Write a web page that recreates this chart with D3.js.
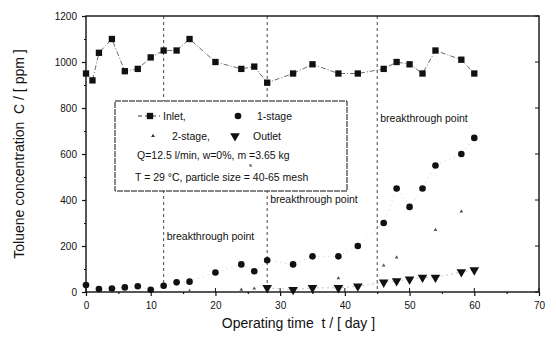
<!DOCTYPE html>
<html>
<head>
<meta charset="utf-8">
<script src="https://cdn.jsdelivr.net/npm/d3@7"></script>
<style>
  body { margin: 0; background: #fff; }
  svg { font-family: "Liberation Sans", Arial, sans-serif; }
</style>
</head>
<body>
<div id="chart"></div>
<script>
// data
const inletDays = [0, 1, 2, 4, 6, 8, 10, 12, 14, 16, 20, 24, 26, 28, 32, 35, 39, 42, 46, 48, 50, 52, 54, 58, 60];
const inletVals = [950, 920, 1040, 1100, 960, 970, 1020, 1050, 1050, 1100, 1000, 970, 980, 910, 950, 990, 950, 950, 970, 1000, 990, 950, 1050, 1010, 950];

const stage1Days = [0, 2, 4, 6, 8, 10, 12, 14, 16, 20, 24, 26, 28, 32, 35, 39, 42, 46, 48, 50, 52, 54, 58, 60];
const stage1Vals = [30, 13, 15, 20, 25, 10, 27, 42, 45, 85, 120, 90, 138, 120, 155, 155, 200, 300, 450, 370, 450, 550, 600, 670];

const stage2Days = [16, 24, 26, 28, 32, 35, 39, 42, 46, 48, 54, 58];
const stage2Vals = [5, 10, 15, 20, 10, 20, 60, 20, 115, 150, 270, 350];

const outletDays = [28, 32, 35, 39, 42, 46, 48, 50, 52, 54, 58, 60];
const outletVals = [18, 10, 18, 18, 25, 42, 48, 55, 63, 63, 87, 95];

const breakDays = [12, 28, 45];
const xTicks = [0, 10, 20, 30, 40, 50, 60, 70];
const yTicks = [0, 200, 400, 600, 800, 1000, 1200];

const W = 556, H = 337;
const margin = { top: 16, right: 17, bottom: 45, left: 86 };
const width = W - margin.left - margin.right,
  height = H - margin.top - margin.bottom;

const svg = d3.select("#chart").append("svg")
  .attr("width", W).attr("height", H);
const g = svg.append("g")
  .attr("transform", "translate(" + margin.left + "," + margin.top + ")");

const x = d3.scaleLinear().domain([0, 70]).range([0, width]);
const y = d3.scaleLinear().domain([0, 1200]).range([height, 0]);

// breakthrough lines
g.selectAll(".brk").data(breakDays).enter().append("line")
  .attr("x1", d => x(d)).attr("x2", d => x(d))
  .attr("y1", 0).attr("y2", height)
  .attr("stroke", "#333").attr("stroke-width", 0.9)
  .attr("stroke-dasharray", "3,3");

// legend box (drawn over the lines)
const leg = g.append("g").attr("transform", "translate(29,85)");
leg.append("rect").attr("width", 232).attr("height", 90)
  .attr("fill", "#fff").attr("stroke", "#111").attr("stroke-width", 1)
  .attr("stroke-dasharray", "6,1");

// axes
const xAxis = g.append("g").attr("transform", "translate(0," + height + ")")
  .call(d3.axisBottom(x).tickValues(xTicks).tickSize(4).tickPadding(6).tickFormat(d3.format("d")));
const xMinor = g.append("g").attr("transform", "translate(0," + height + ")")
  .call(d3.axisBottom(x).tickValues([5, 15, 25, 35, 45, 55, 65]).tickSize(2).tickFormat(""));
const yAxis = g.append("g")
  .call(d3.axisLeft(y).tickValues(yTicks).tickSize(4).tickPadding(5).tickFormat(d3.format("d")));
const yMinor = g.append("g")
  .call(d3.axisLeft(y).tickValues([100, 300, 500, 700, 900, 1100]).tickSize(2).tickFormat(""));
[xAxis, yAxis].forEach(a => a.selectAll("text").style("font-size", "10px").attr("fill", "#111"));
[xAxis, xMinor, yAxis, yMinor].forEach(a => {
  a.select(".domain").remove();
  a.selectAll("line").attr("stroke", "#111").attr("stroke-width", 1.2);
});
// inward ticks
g.selectAll(".xin").data(xTicks).enter().append("line")
  .attr("x1", d => x(d)).attr("x2", d => x(d))
  .attr("y1", height).attr("y2", height - 4).attr("stroke", "#111");
g.selectAll(".yin").data(yTicks).enter().append("line")
  .attr("x1", width).attr("x2", width - 4)
  .attr("y1", d => y(d)).attr("y2", d => y(d)).attr("stroke", "#111");

// frame
g.append("rect").attr("width", width).attr("height", height)
  .attr("fill", "none").attr("stroke", "#111").attr("stroke-width", 1.4);

// series
const pts = (days, vals) => days.map((d, i) => [d, vals[i]]);
const line = d3.line().x(d => x(d[0])).y(d => y(d[1]));

g.append("path").datum(pts(inletDays, inletVals))
  .attr("d", line).attr("fill", "none")
  .attr("stroke", "#444").attr("stroke-width", 0.8).attr("stroke-dasharray", "5,2,1,2");
g.append("path").datum(pts(stage1Days, stage1Vals))
  .attr("d", line).attr("fill", "none")
  .attr("stroke", "#aaa").attr("stroke-width", 0.6).attr("stroke-dasharray", "1,4");
g.append("path").datum(pts(outletDays, outletVals))
  .attr("d", line).attr("fill", "none")
  .attr("stroke", "#999").attr("stroke-width", 0.6).attr("stroke-dasharray", "2,3");

g.selectAll(".sq").data(pts(inletDays, inletVals)).enter().append("path")
  .attr("d", d3.symbol(d3.symbolSquare, 40)())
  .attr("transform", d => "translate(" + x(d[0]) + "," + y(d[1]) + ")")
  .attr("fill", "#111");
g.selectAll(".ci").data(pts(stage1Days, stage1Vals)).enter().append("circle")
  .attr("cx", d => x(d[0])).attr("cy", d => y(d[1])).attr("r", 3.3)
  .attr("fill", "#111");
g.selectAll(".tu").data(pts(stage2Days, stage2Vals)).enter().append("path")
  .attr("d", d3.symbol(d3.symbolTriangle, 6)())
  .attr("transform", d => "translate(" + x(d[0]) + "," + y(d[1]) + ")")
  .attr("fill", "#555");
g.selectAll(".td").data(pts(outletDays, outletVals)).enter().append("path")
  .attr("d", d3.symbol(d3.symbolTriangle, 40)())
  .attr("transform", d => "translate(" + x(d[0]) + "," + y(d[1]) + ") rotate(180)")
  .attr("fill", "#111");

// breakthrough labels
const brkLabels = [[12, 240], [28, 203], [45, 122]];
g.selectAll(".bl").data(brkLabels).enter().append("text")
  .attr("x", d => x(d[0]) + 3).attr("y", d => d[1] - margin.top)
  .attr("font-size", "10.5px").attr("fill", "#111")
  .text("breakthrough point");

// legend contents
leg.append("line").attr("x1", 23).attr("x2", 45).attr("y1", 15).attr("y2", 15)
  .attr("stroke", "#333").attr("stroke-dasharray", "4,3");
leg.append("path").attr("d", d3.symbol(d3.symbolSquare, 40)())
  .attr("transform", "translate(35,15)").attr("fill", "#111");
leg.append("circle").attr("cx", 123).attr("cy", 15).attr("r", 3.3).attr("fill", "#111");
leg.append("path").attr("d", d3.symbol(d3.symbolTriangle, 6)())
  .attr("transform", "translate(38,35)").attr("fill", "#333");
leg.append("path").attr("d", d3.symbol(d3.symbolTriangle, 40)())
  .attr("transform", "translate(120,35) rotate(180)").attr("fill", "#111");
const legText = [
  [48, 19, "Inlet,"], [142, 19, "1-stage"],
  [57, 39, "2-stage,"], [138, 39, "Outlet"],
  [22, 58, "Q=12.5 l/min, w=0%, m  =3.65 kg"],
  [20, 80, "T = 29 \u00b0C, particle size = 40-65 mesh"]
];
leg.selectAll(".lt").data(legText).enter().append("text")
  .attr("x", d => d[0]).attr("y", d => d[1])
  .attr("font-size", "10.5px").attr("fill", "#111")
  .text(d => d[2]);
leg.append("text").attr("x", 134).attr("y", 66).attr("font-size", "6px").text("s");

// axis titles
svg.append("text").attr("x", margin.left + width / 2 - 14).attr("y", 328)
  .attr("text-anchor", "middle").attr("font-size", "14px").attr("fill", "#111")
  .attr("xml:space", "preserve")
  .text("Operating time  t / [ day ]");
svg.append("text")
  .attr("transform", "translate(24," + (margin.top + height / 2) + ") rotate(-90)")
  .attr("text-anchor", "middle").attr("font-size", "14px").attr("fill", "#111")
  .attr("xml:space", "preserve")
  .text("Toluene concentration  C / [ ppm ]");
</script>
</body>
</html>
